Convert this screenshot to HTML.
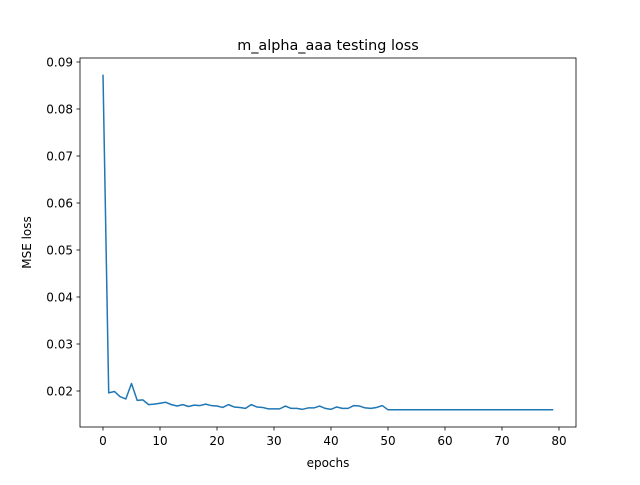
<!DOCTYPE html>
<html><head><meta charset="utf-8"><style>
body{margin:0;background:#fff;font-family:"Liberation Sans","DejaVu Sans",sans-serif}
svg text{font-family:"DejaVu Sans","Liberation Sans",sans-serif;font-size:12px;fill:#000}
</style></head><body>
<svg id="chart" width="640" height="480" xmlns="http://www.w3.org/2000/svg">
<rect width="640" height="480" fill="#fff"/>
<text x="328" y="50" text-anchor="middle" style="font-size:14.4px">m_alpha_aaa testing loss</text>
<g id="ticks"></g>
<path id="line" fill="none" stroke="#1f77b4" stroke-width="1.5" stroke-linejoin="round"/>
<rect x="80" y="58" width="496" height="369" fill="none" stroke="#000" stroke-width="0.8"/>
<text x="328" y="467" text-anchor="middle">epochs</text>
<text transform="translate(31,242.5) rotate(-90)" text-anchor="middle">MSE loss</text>
</svg>
<script>
const losses=[0.0873,0.0196,0.0199,0.0188,0.0183,0.0216,0.0180,0.0181,0.0171,0.0172,0.0174,0.0176,0.0171,0.0168,0.0171,0.0167,0.0170,0.0169,0.0172,0.0169,0.0168,0.0165,0.0171,0.0166,0.0165,0.0163,0.0171,0.0166,0.0165,0.0162,0.0162,0.0162,0.0168,0.0163,0.0163,0.0161,0.0164,0.0164,0.0168,0.0163,0.0161,0.0166,0.0163,0.0163,0.0169,0.0168,0.0164,0.0163,0.0165,0.0169,0.0160,0.0160,0.0160,0.0160,0.0160,0.0160,0.0160,0.0160,0.0160,0.0160,0.0160,0.0160,0.0160,0.0160,0.0160,0.0160,0.0160,0.0160,0.0160,0.0160,0.0160,0.0160,0.0160,0.0160,0.0160,0.0160,0.0160,0.0160,0.0160,0.0160];
const xTicks=[0,10,20,30,40,50,60,70,80];
const yTicks=[0.02,0.03,0.04,0.05,0.06,0.07,0.08,0.09];
const X0=80,X1=576,Y0=427,Y1=58;
const xMin=-4.035,xMax=82.985,yMin=0.01234,yMax=0.09085;
function xs(v){return X0+(v-xMin)/(xMax-xMin)*(X1-X0);}
function ys(v){return Y0-(v-yMin)/(yMax-yMin)*(Y0-Y1);}
const NS="http://www.w3.org/2000/svg";
const g=document.getElementById('ticks');
xTicks.forEach(t=>{
  const l=document.createElementNS(NS,'line');
  
  
  l.setAttribute('x1',xs(t));l.setAttribute('x2',xs(t));l.setAttribute('y1',Y0);l.setAttribute('y2',Y0+3.5);l.setAttribute('stroke','#000');l.setAttribute('stroke-width','0.8');g.appendChild(l);
  const tx=document.createElementNS(NS,'text');
  
  
  tx.setAttribute('x',xs(t));tx.setAttribute('y',Y0+18);tx.setAttribute('text-anchor','middle');tx.textContent=t;g.appendChild(tx);
});
yTicks.forEach(t=>{
  const l=document.createElementNS(NS,'line');
  
  
  l.setAttribute('x1',X0-3.5);l.setAttribute('x2',X0);l.setAttribute('y1',ys(t));l.setAttribute('y2',ys(t));l.setAttribute('stroke','#000');l.setAttribute('stroke-width','0.8');g.appendChild(l);
  const tx=document.createElementNS(NS,'text');
  
  
  tx.setAttribute('x',X0-7);tx.setAttribute('y',ys(t)+4.5);tx.setAttribute('text-anchor','end');tx.textContent=t.toFixed(2);g.appendChild(tx);
});
document.getElementById('line').setAttribute('d',losses.map((v,i)=>(i?'L':'M')+xs(i).toFixed(2)+' '+ys(v).toFixed(2)).join(' '));
</script>
</body></html>
